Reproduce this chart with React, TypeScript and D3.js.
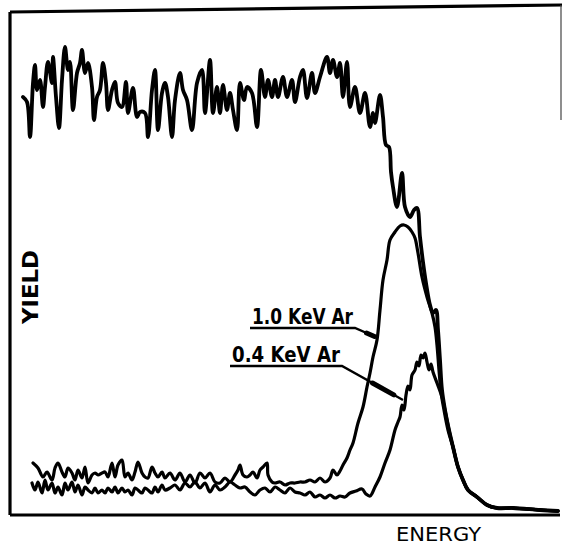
import React from "react";
import * as d3 from "d3";

// Energy channel (arbitrary units) and yield (arbitrary units)
const topEnergy = [13,17,20,23,25,27,30,33,35,38,42,43,46,49,52,55,58,60,63,67,70,72,75,78,82,84,87,90,93,96,98,102,105,108,112,116,118,123,127,130,135,138,142,145,148,152,155,158,162,165,170,173,177,182,187,192,195,200,203,207,210,213,217,220,223,227,230,234,237,242,247,251,255,258,262,265,268,273,277,282,285,290,293,297,302,305,310,317,320,323,327,330,333,337,340,345,350,355,360,363,365,370,373,376,379,381,383,387,392,395,400,404,407,410,413,416,420,423,426,428,430,432,435,439,443,448,453,458,467,477,487,503,530,548];
const topYield = [418,413,378,432,450,425,435,408,428,453,432,458,418,387,435,468,445,453,405,442,452,465,442,452,428,395,418,425,452,432,405,425,433,412,408,433,402,427,398,403,402,378,425,445,385,422,432,418,378,415,442,425,415,385,432,445,402,455,402,428,402,430,405,422,405,385,432,415,428,422,388,445,418,435,418,435,418,438,418,435,413,438,445,417,442,422,438,458,442,455,438,452,418,453,408,428,402,422,388,402,392,420,398,370,368,343,328,308,342,308,298,305,307,278,253,232,210,202,205,185,155,125,105,85,68,48,35,25,18,10,7,7,5,4];

const kev10Energy = [23,28,33,37,42,45,48,52,55,58,62,65,68,72,75,78,82,85,88,92,95,98,102,105,108,112,115,118,122,125,128,132,135,138,142,145,148,152,155,160,165,170,175,180,185,190,195,200,205,210,215,220,225,228,230,233,237,240,243,247,250,253,257,258,262,265,270,275,280,285,290,295,300,305,310,315,320,323,327,330,333,337,340,343,348,353,357,360,363,367,370,373,377,380,385,390,394,398,402,405,408,412,417,422,425,427,429,431,434,438,443,448,453,458,467,477,487,503,530,548];
const kev10Yield = [52,47,38,43,35,47,52,43,38,47,42,35,45,37,48,32,40,42,40,42,43,38,52,38,50,55,38,42,35,43,53,42,38,37,48,42,38,43,37,42,35,42,33,40,32,42,37,42,33,32,37,33,40,45,50,40,38,40,43,37,45,48,52,40,33,32,33,30,32,32,33,33,35,33,37,33,37,45,40,44,50,57,65,72,92,108,128,142,158,175,205,235,255,275,283,289,290,288,283,277,262,238,218,202,188,170,145,123,105,85,68,48,35,25,18,10,7,7,5,4];

const kev04Energy = [22,25,28,32,35,38,42,45,48,52,55,58,62,65,68,72,75,78,82,85,88,92,95,98,102,105,108,112,115,118,122,125,128,132,135,138,142,145,148,152,155,160,165,170,175,180,185,190,195,200,205,210,215,220,225,230,235,240,245,250,255,260,265,270,275,280,285,290,295,300,305,310,315,320,325,330,335,340,346,352,356,360,365,370,375,380,385,388,390,392,394,396,398,400,402,405,407,409,411,413,415,417,419,421,423,427,432,436,439,443,448,453,458,467,477,487,503,530,548];
const kev04Yield = [32,25,33,22,35,25,32,22,28,20,32,25,33,23,30,20,28,25,22,27,22,25,22,27,23,28,22,27,23,25,20,27,25,22,27,25,22,28,23,30,25,27,30,25,32,28,33,27,32,23,30,25,28,33,30,27,28,23,20,25,27,23,28,25,22,27,23,22,20,23,18,20,17,20,17,19,18,22,24,26,21,19,28,38,52,65,85,93,98,110,105,120,129,125,140,145,153,149,160,157,162,153,145,151,143,132,118,100,85,68,48,35,25,18,10,7,7,5,4];

// Annotation anchors (energy, yield)
const labels = ["1.0 KeV Ar", "0.4 KeV Ar"];
const labelStart = [[240, 187], [220, 149]];
const labelUnderEnd = [[345, 187], [332, 149]];
const labelTip = [[368, 177], [393, 115]];

const W = 564;
const H = 546;

export default function App() {
  const x = d3.scaleLinear().domain([0, 550]).range([10, 560]);
  const y = d3.scaleLinear().domain([0, 500]).range([515, 15]);
  const line = d3
    .line<[number, number]>()
    .x((d) => x(d[0]))
    .y((d) => y(d[1]))
    .curve(d3.curveCatmullRom.alpha(0.5));

  const zip = (a: number[], b: number[]) =>
    a.map((v, i) => [v, b[i]] as [number, number]);

  const series = [
    { e: topEnergy, v: topYield, w: 3.8 },
    { e: kev10Energy, v: kev10Yield, w: 3.2 },
    { e: kev04Energy, v: kev04Yield, w: 3.2 },
  ];

  const font = "'DejaVu Sans', 'Liberation Sans', sans-serif";

  return (
    <svg
      width={W}
      height={H}
      style={{ position: "absolute", left: 0, top: 0, background: "#fff" }}
    >
      {/* frame */}
      <line x1={x(0)} y1={12} x2={x(0)} y2={y(0)} stroke="#000" strokeWidth={3.2} />
      <line x1={x(0)} y1={12} x2={562} y2={5} stroke="#000" strokeWidth={3.2} />
      <line x1={x(0)} y1={y(0)} x2={x(550)} y2={y(0)} stroke="#000" strokeWidth={3.2} />
      <line x1={561} y1={5} x2={561} y2={120} stroke="#444" strokeWidth={1.2} />

      {series.map((s, i) => (
        <path
          key={i}
          d={line(zip(s.e, s.v)) || ""}
          fill="none"
          stroke="#000"
          strokeWidth={s.w}
          strokeLinejoin="round"
          strokeLinecap="round"
        />
      ))}

      {labels.map((t, i) => {
        const [sx, sy] = labelStart[i];
        const [ux, uy] = labelUnderEnd[i];
        const [tx, ty] = labelTip[i];
        const mx = x(ux) + (x(tx) - x(ux)) * 0.5;
        const my = y(uy) + (y(ty) - y(uy)) * 0.5;
        const ex = x(ux) + (x(tx) - x(ux)) * 0.85;
        const ey = y(uy) + (y(ty) - y(uy)) * 0.85;
        return (
          <g key={t}>
            <text
              x={x(sx) + 2}
              y={y(sy) - 4}
              fontFamily={font}
              fontSize={22}
              fontWeight="bold"
              textLength={x(ux) - x(sx) - 4}
              lengthAdjust="spacingAndGlyphs"
            >
              {t}
            </text>
            <polyline
              points={`${x(sx)},${y(sy)} ${x(ux)},${y(uy)} ${x(tx)},${y(ty)}`}
              fill="none"
              stroke="#000"
              strokeWidth={2.4}
            />
            <line x1={mx} y1={my} x2={ex} y2={ey} stroke="#000" strokeWidth={5} strokeLinecap="round" />
          </g>
        );
      })}

      <text
        transform={`translate(38, 287) rotate(-90)`}
        textAnchor="middle"
        fontFamily={font}
        fontSize={21}
        fontWeight="bold"
        textLength={74}
        lengthAdjust="spacingAndGlyphs"
      >
        YIELD
      </text>
      <text
        x={396}
        y={541}
        fontFamily={font}
        fontSize={19}
        textLength={85}
        lengthAdjust="spacingAndGlyphs"
      >
        ENERGY
      </text>
    </svg>
  );
}
